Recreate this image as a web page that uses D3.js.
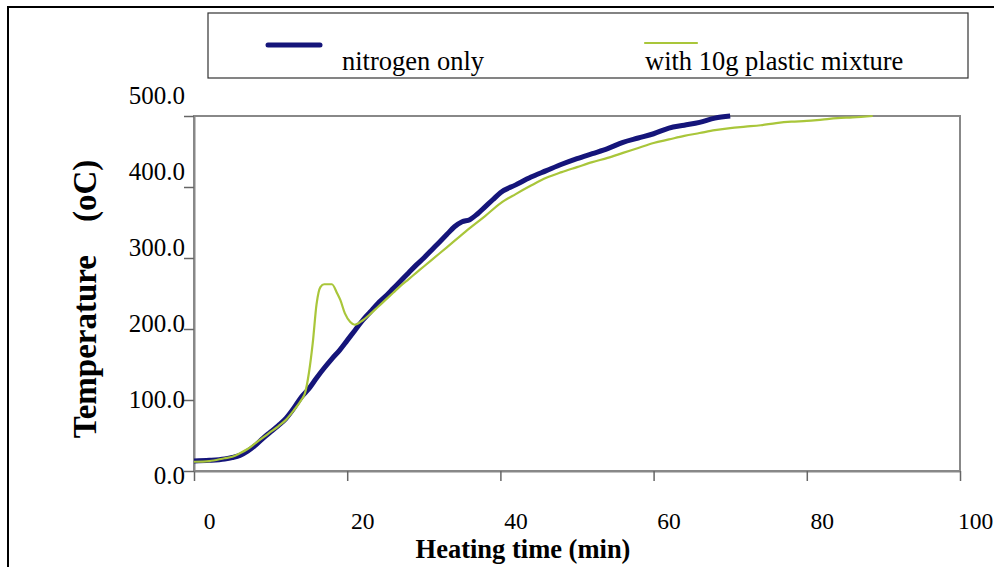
<!DOCTYPE html>
<html>
<head>
<meta charset="utf-8">
<script src="https://cdn.jsdelivr.net/npm/d3@7"></script>
<style>
  body { margin: 0; background: #fff; }
  text { font-family: "Liberation Serif", "Times New Roman", serif; fill: #000; }
</style>
</head>
<body>
<div id="chart"></div>
<script>
const w = 994;
const h = 567;

// data
const seriesNames = ["nitrogen only", "with 10g plastic mixture"];
const nitrogenTime = [0, 2, 4, 5, 6, 7, 8, 9, 10, 11, 12, 13, 14, 15, 16, 17, 18, 19, 20, 21, 22, 23, 24, 25, 26, 27, 28, 29, 30, 31, 32, 33, 34, 35, 36, 37, 38, 39, 40, 42, 44, 46, 48, 50, 52, 54, 56, 58, 60, 62, 64, 66, 68, 70];
const nitrogenTemp = [14, 15, 17, 19, 22, 28, 36, 46, 55, 64, 74, 88, 104, 116, 131, 145, 158, 170, 184, 198, 212, 224, 236, 246, 257, 268, 279, 290, 300, 311, 322, 333, 344, 351, 354, 362, 372, 382, 392, 403, 414, 423, 432, 440, 447, 454, 463, 469, 475, 483, 487, 491, 497, 500];
const plasticTime = [0, 2, 4, 5, 6, 7, 8, 9, 10, 11, 12, 13, 14, 14.5, 15, 15.5, 16, 16.5, 17, 18, 18.7, 19.1, 19.7, 20.4, 21, 22, 23, 24, 25, 26, 27, 28, 29, 30, 32, 34, 36, 38, 40, 42, 44, 46, 48, 50, 52, 54, 56, 58, 60, 62, 64, 66, 68, 70, 72, 74, 76, 78, 80, 82, 84, 86, 88.6];
const plasticTemp = [13, 14, 18, 20, 25, 31, 39, 47, 55, 63, 72, 85, 100, 110, 138, 180, 235, 259, 263, 263, 250, 241, 222, 210, 206, 212, 221, 231, 241, 251, 261, 270, 279, 288, 306, 324, 342, 359, 377, 390, 402, 413, 421, 428, 435, 441, 448, 455, 462, 467, 472, 476, 480, 483, 485, 487, 490, 492, 493, 495, 497, 498, 500];
const xTicks = [0, 20, 40, 60, 80, 100];
const yTicks = [0, 100, 200, 300, 400, 500];

const colors = ["#15157a", "#a9c63a"];

const svg = d3
  .select("#chart")
  .append("svg")
  .attr("width", w)
  .attr("height", h);

// outer frame (only top and left edges are inside the picture)
svg
  .append("rect")
  .attr("x", 8)
  .attr("y", 7)
  .attr("width", 1100)
  .attr("height", 700)
  .attr("fill", "#fff")
  .attr("stroke", "#000")
  .attr("stroke-width", 2);

const plotLeft = 194, plotRight = 960, plotTop = 116, plotBottom = 471;

const xScale = d3.scaleLinear().domain([0, 100]).range([plotLeft, plotRight]);
const yScale = d3.scaleLinear().domain([0, 500]).range([plotBottom, plotTop]);
// tick labels in the source are spread a bit wider than the ticks themselves
const labelY = d3.scaleLinear().domain([0, 500]).range([475, 95]);

// plot border (top / right)
svg
  .append("rect")
  .attr("x", plotLeft)
  .attr("y", plotTop)
  .attr("width", plotRight - plotLeft)
  .attr("height", plotBottom - plotTop)
  .attr("fill", "none")
  .attr("stroke", "#888")
  .attr("stroke-width", 2);

const xAxis = d3.axisBottom(xScale).tickValues(xTicks).tickSize(10).tickSizeOuter(0);
const gx = svg
  .append("g")
  .attr("transform", "translate(0," + plotBottom + ")")
  .call(xAxis);
gx.select(".domain").attr("stroke", "#888").attr("stroke-width", 2);
gx.selectAll(".tick line").attr("stroke", "#666").attr("stroke-width", 1.5);
gx.selectAll(".tick text")
  .attr("x", 15)
  .attr("y", 58)
  .attr("dy", null)
  .attr("font-size", 23.5)
  .style("font-family", "'Liberation Serif', serif");

const yAxis = d3.axisLeft(yScale).tickValues(yTicks).tickSize(10).tickSizeOuter(0)
  .tickFormat(d3.format(".1f"));
const gy = svg
  .append("g")
  .attr("transform", "translate(" + plotLeft + ",0)")
  .call(yAxis);
gy.select(".domain").attr("stroke", "#888").attr("stroke-width", 2);
gy.selectAll(".tick line").attr("stroke", "#666").attr("stroke-width", 1.5);
gy.selectAll(".tick text")
  .attr("x", -9)
  .attr("y", (d) => labelY(d) - yScale(d))
  .attr("dy", "0.35em")
  .attr("font-size", 25)
  .style("font-family", "'Liberation Serif', serif");

// lines
const line = d3
  .line()
  .x((d) => xScale(d[0]))
  .y((d) => yScale(d[1]))
  .curve(d3.curveMonotoneX);

const nitrogen = nitrogenTime.map((t, i) => [t, nitrogenTemp[i]]);
const plastic = plasticTime.map((t, i) => [t, plasticTemp[i]]);

svg
  .append("path")
  .datum(nitrogen)
  .attr("d", line)
  .attr("fill", "none")
  .attr("stroke", colors[0])
  .attr("stroke-width", 5)
  .attr("stroke-linejoin", "round");

// green series sits on top of the blue one where they overlap
svg
  .append("path")
  .datum(plastic)
  .attr("d", line)
  .attr("fill", "none")
  .attr("stroke", colors[1])
  .attr("stroke-width", 2.2);

// axis titles
svg
  .append("text")
  .attr("x", 523)
  .attr("y", 558)
  .attr("text-anchor", "middle")
  .attr("font-size", 26.5)
  .attr("font-weight", "bold")
  .text("Heating time (min)");

svg
  .append("text")
  .attr("transform", "translate(96,299) rotate(-90)")
  .attr("text-anchor", "middle")
  .attr("font-size", 33)
  .attr("font-weight", "bold")
  .style("white-space", "pre")
  .text("Temperature    (oC)");

// legend
const legend = svg.append("g");
legend
  .append("rect")
  .attr("x", 208)
  .attr("y", 13)
  .attr("width", 760)
  .attr("height", 65)
  .attr("fill", "#fff")
  .attr("stroke", "#333")
  .attr("stroke-width", 1.2);

const legendItems = [
  { name: seriesNames[0], color: colors[0], width: 5, lx: 268, ly: 45, tx: 342 },
  { name: seriesNames[1], color: colors[1], width: 2.2, lx: 645, ly: 43, tx: 645 },
];
legend
  .selectAll("line")
  .data(legendItems)
  .enter()
  .append("line")
  .attr("x1", (d) => d.lx)
  .attr("x2", (d) => d.lx + 52)
  .attr("y1", (d) => d.ly)
  .attr("y2", (d) => d.ly)
  .attr("stroke", (d) => d.color)
  .attr("stroke-width", (d) => d.width)
  .attr("stroke-linecap", "round");
legend
  .selectAll("text")
  .data(legendItems)
  .enter()
  .append("text")
  .attr("x", (d) => d.tx)
  .attr("y", 70)
  .attr("font-size", 26.5)
  .text((d) => d.name);
</script>
</body>
</html>
